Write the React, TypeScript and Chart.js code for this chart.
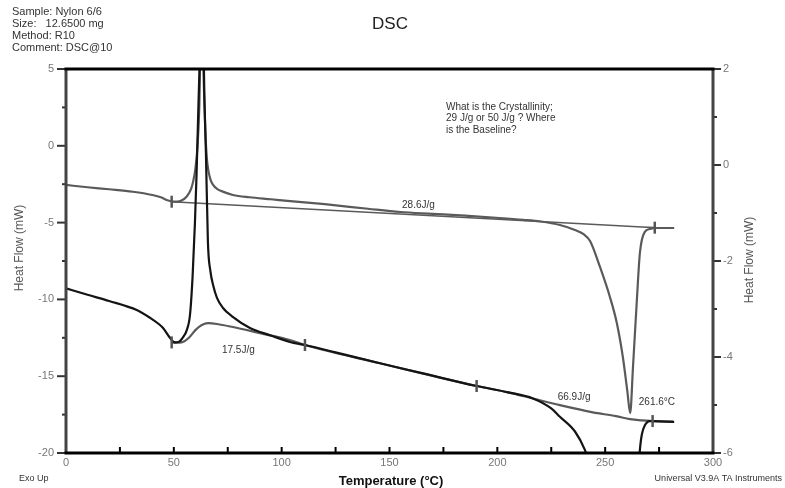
import { useEffect, useRef } from "react";
import { Chart, registerables } from "chart.js";
Chart.register(...registerables);

// ---- data (Temperature °C, Heat Flow mW on left axis) ----
const upperT = [0, 10, 20, 31, 40, 44, 47, 50, 53, 56, 58, 59, 60, 61, 61.8, 62.5, 63.3, 64, 64.6, 65.3, 66, 67, 68.2, 70, 73, 77.4, 85, 95, 104, 120, 140, 155, 170, 185, 201, 212, 220, 229, 236, 240, 243, 247.6, 252.2, 255.4, 258.2, 260.3, 261.6, 262.9, 264.7, 266.1, 268.4, 270.7, 273, 282];
const upperHF = [-2.55, -2.7, -2.83, -2.99, -3.2, -3.35, -3.55, -3.64, -3.6, -3.3, -2.8, -2.3, -1.5, 0.0, 2.5, 7, 7, 3.5, 1.0, -0.8, -1.6, -2.2, -2.55, -2.8, -3.0, -3.2, -3.35, -3.48, -3.6, -3.8, -4.1, -4.31, -4.43, -4.55, -4.7, -4.82, -4.93, -5.16, -5.48, -5.75, -6.2, -7.89, -9.84, -11.54, -13.75, -16.0, -17.4, -14.4, -10.04, -6.98, -5.6, -5.42, -5.35, -5.35];

const upperBaseT = [49, 273];
const upperBaseHF = [-3.64, -5.33];

const blackT = [0, 10, 20, 32.8, 39, 43, 45, 48.2, 50.5, 52.5, 54.3, 56, 57.5, 58.7, 59.8, 60.5, 61.2, 62, 62.7, 63.5, 64.2, 64.9, 65.8, 67, 68.2, 70, 72.8, 77, 85.3, 95, 103.8, 110.8, 125, 145.6, 165, 190.4, 205, 216.5, 225, 229, 236, 240.6, 243, 246];
const blackHF = [-9.28, -9.7, -10.1, -10.69, -11.2, -11.6, -11.86, -12.5, -12.8, -12.75, -12.45, -12.0, -11.0, -8.5, -4.96, -2.0, 1.55, 5.5, 8, 8, 3, -0.6, -6.26, -8.2, -9.06, -9.9, -10.56, -11.1, -11.86, -12.35, -12.77, -12.97, -13.45, -14.16, -14.8, -15.64, -16.05, -16.45, -17.1, -17.64, -18.6, -19.8, -20.8, -22.5];

const blackEndT = [263, 265.5, 266.3, 267, 268.4, 270.7, 273, 282];
const blackEndHF = [-24, -20.8, -19.5, -18.8, -18.2, -17.92, -17.93, -17.97];

const lowerBaseT = [49, 51, 54, 57, 60, 62, 64, 66, 70, 77.4, 90, 103.8, 110.8, 145.6, 190.4, 205, 216.5, 229, 244.3, 255, 261.5, 267, 272, 281.4];
const lowerBaseHF = [-12.8, -12.82, -12.78, -12.5, -12.0, -11.75, -11.6, -11.55, -11.6, -11.8, -12.2, -12.64, -12.97, -14.16, -15.64, -16.05, -16.45, -16.88, -17.35, -17.6, -17.8, -17.88, -17.92, -17.96];

const markT = [49, 273, 49, 110.8, 190.4, 272];
const markHF = [-3.64, -5.33, -12.8, -12.97, -15.64, -17.92];

const xTicks = [0, 50, 100, 150, 200, 250, 300];
const yLeftTicks = [-20, -15, -10, -5, 0, 5];
const yRightTicks = [-6, -4, -2, 0, 2];

const headerLines = ["Sample: Nylon 6/6", "Size:   12.6500 mg", "Method: R10", "Comment: DSC@10"];
const noteLines = ["What is the Crystallinity;", "29 J/g or 50 J/g ? Where", "is the Baseline?"];
const labelTexts = ["28.6J/g", "17.5J/g", "66.9J/g", "261.6°C"];
const labelT = [155.8, 72.3, 228, 265.6];
const labelHF = [-3.85, -13.29, -16.35, -16.68];

const FONT = "'Liberation Sans', Arial, sans-serif";
const GRAY = "#5a5a5a";
const BLACK = "#141414";

const pts = (xs: number[], ys: number[]) => xs.map((x, i) => ({ x, y: ys[i] }));

const decor = {
  id: "decor",
  afterDatasetsDraw(chart: any) {
    const { ctx, chartArea: a, scales } = chart;
    const xs = scales.x, ys = scales.y, ys2 = scales.y2;
    ctx.save();
    // tick marks
    ctx.strokeStyle = "#333";
    ctx.lineWidth = 2;
    for (let v = -20; v <= 5; v += 2.5) {
      const py = ys.getPixelForValue(v);
      const major = v % 5 === 0;
      ctx.beginPath();
      ctx.moveTo(a.left - (major ? 9 : 4), py);
      ctx.lineTo(a.left, py);
      ctx.stroke();
    }
    for (let v = -6; v <= 2; v += 1) {
      const py = ys2.getPixelForValue(v);
      const major = v % 2 === 0;
      ctx.beginPath();
      ctx.moveTo(a.right, py);
      ctx.lineTo(a.right + (major ? 8 : 4), py);
      ctx.stroke();
    }
    ctx.strokeStyle = "#000";
    for (let t = 25; t < 300; t += 25) {
      const px = xs.getPixelForValue(t);
      ctx.beginPath();
      ctx.moveTo(px, a.bottom);
      ctx.lineTo(px, a.bottom - 6);
      ctx.stroke();
    }
    // frame
    ctx.lineWidth = 3;
    ctx.strokeStyle = "#444";
    ctx.beginPath();
    ctx.moveTo(a.left, a.top);
    ctx.lineTo(a.left, a.bottom);
    ctx.moveTo(a.right, a.top);
    ctx.lineTo(a.right, a.bottom);
    ctx.stroke();
    ctx.strokeStyle = "#000";
    ctx.beginPath();
    ctx.moveTo(a.left - 1.5, a.top);
    ctx.lineTo(a.right + 1.5, a.top);
    ctx.moveTo(a.left - 1.5, a.bottom);
    ctx.lineTo(a.right + 1.5, a.bottom);
    ctx.stroke();

    // texts
    ctx.textBaseline = "middle";
    ctx.fillStyle = "#333";
    ctx.textAlign = "left";
    ctx.font = `11px ${FONT}`;
    headerLines.forEach((s, i) => ctx.fillText(s, 12, 12 + i * 12));
    ctx.textAlign = "center";
    ctx.font = `17px ${FONT}`;
    ctx.fillStyle = "#222";
    ctx.fillText("DSC", 390, 24);

    ctx.font = `10px ${FONT}`;
    ctx.fillStyle = "#333";
    ctx.textAlign = "left";
    const nx = xs.getPixelForValue(176.2);
    const ny = ys.getPixelForValue(2.53);
    noteLines.forEach((s, i) => ctx.fillText(s, nx, ny + i * 11.5));
    labelTexts.forEach((s, i) => ctx.fillText(s, xs.getPixelForValue(labelT[i]), ys.getPixelForValue(labelHF[i])));

    // axis titles
    ctx.font = `12px ${FONT}`;
    ctx.fillStyle = "#555";
    ctx.textAlign = "center";
    ctx.save();
    ctx.translate(20, 248);
    ctx.rotate(-Math.PI / 2);
    ctx.fillText("Heat Flow (mW)", 0, 0);
    ctx.restore();
    ctx.save();
    ctx.translate(750, 260);
    ctx.rotate(-Math.PI / 2);
    ctx.fillText("Heat Flow (mW)", 0, 0);
    ctx.restore();

    ctx.font = `bold 13px ${FONT}`;
    ctx.fillStyle = "#111";
    ctx.fillText("Temperature (°C)", 391, 481);
    ctx.font = `9px ${FONT}`;
    ctx.fillStyle = "#333";
    ctx.textAlign = "left";
    ctx.fillText("Exo Up", 19, 479);
    ctx.textAlign = "right";
    ctx.fillText("Universal V3.9A TA Instruments", 782, 479);
    ctx.restore();
  },
};

export default function App() {
  const ref = useRef<HTMLCanvasElement>(null);
  useEffect(() => {
    if (!ref.current) return;
    const lineDs = (label: string, xs: number[], ys: number[], color: string, w = 2) => ({
      label,
      data: pts(xs, ys),
      borderColor: color,
      backgroundColor: color,
      borderWidth: w,
      pointRadius: 0,
      fill: false,
      cubicInterpolationMode: "monotone" as const,
      yAxisID: "y",
    });
    const chart = new Chart(ref.current, {
      type: "line",
      data: {
        datasets: [
          {
            label: "limits",
            data: pts(markT, markHF),
            showLine: false,
            pointStyle: "line",
            rotation: 90,
            pointRadius: 6,
            pointBorderWidth: 2.5,
            borderColor: "#555",
            backgroundColor: "#555",
            yAxisID: "y",
          } as any,
          lineDs("black", blackT, blackHF, BLACK, 2.2),
          lineDs("blackEnd", blackEndT, blackEndHF, BLACK, 2.2),
          lineDs("upper", upperT, upperHF, GRAY, 2.2),
          lineDs("lowerBase", lowerBaseT, lowerBaseHF, GRAY, 2.2),
          lineDs("upperBase", upperBaseT, upperBaseHF, GRAY, 1.6),
        ],
      },
      options: {
        animation: false,
        responsive: false,
        devicePixelRatio: 1,
        layout: { padding: { top: 69, left: 0, right: 0, bottom: 0 } },
        plugins: { legend: { display: false }, tooltip: { enabled: false }, title: { display: false } },
        scales: {
          x: {
            type: "linear",
            position: "bottom",
            min: 0,
            max: 300,
            afterBuildTicks: (s: any) => { s.ticks = xTicks.map((v) => ({ value: v })); },
            afterFit: (s: any) => { s.height = 35; },
            ticks: { color: "#777", font: { size: 11, family: FONT }, padding: 3, maxRotation: 0 },
            grid: { display: false, drawTicks: false },
            border: { display: false },
          },
          y: {
            type: "linear",
            position: "left",
            min: -20,
            max: 5,
            afterBuildTicks: (s: any) => { s.ticks = yLeftTicks.map((v) => ({ value: v })); },
            afterFit: (s: any) => { s.width = 66; },
            ticks: { color: "#777", font: { size: 11, family: FONT }, padding: 12 },
            grid: { display: false, drawTicks: false },
            border: { display: false },
          },
          y2: {
            type: "linear",
            position: "right",
            min: -6,
            max: 2,
            afterBuildTicks: (s: any) => { s.ticks = yRightTicks.map((v) => ({ value: v })); },
            afterFit: (s: any) => { s.width = 72; },
            ticks: { color: "#777", font: { size: 11, family: FONT }, padding: 10 },
            grid: { display: false, drawTicks: false },
            border: { display: false },
          },
        },
      },
      plugins: [decor],
    });
    return () => chart.destroy();
  }, []);
  return (
    <div style={{ position: "absolute", left: 0, top: 0, width: 785, height: 488, background: "#fff" }}>
      <canvas ref={ref} width={785} height={488} style={{ display: "block", width: 785, height: 488 }} />
    </div>
  );
}
